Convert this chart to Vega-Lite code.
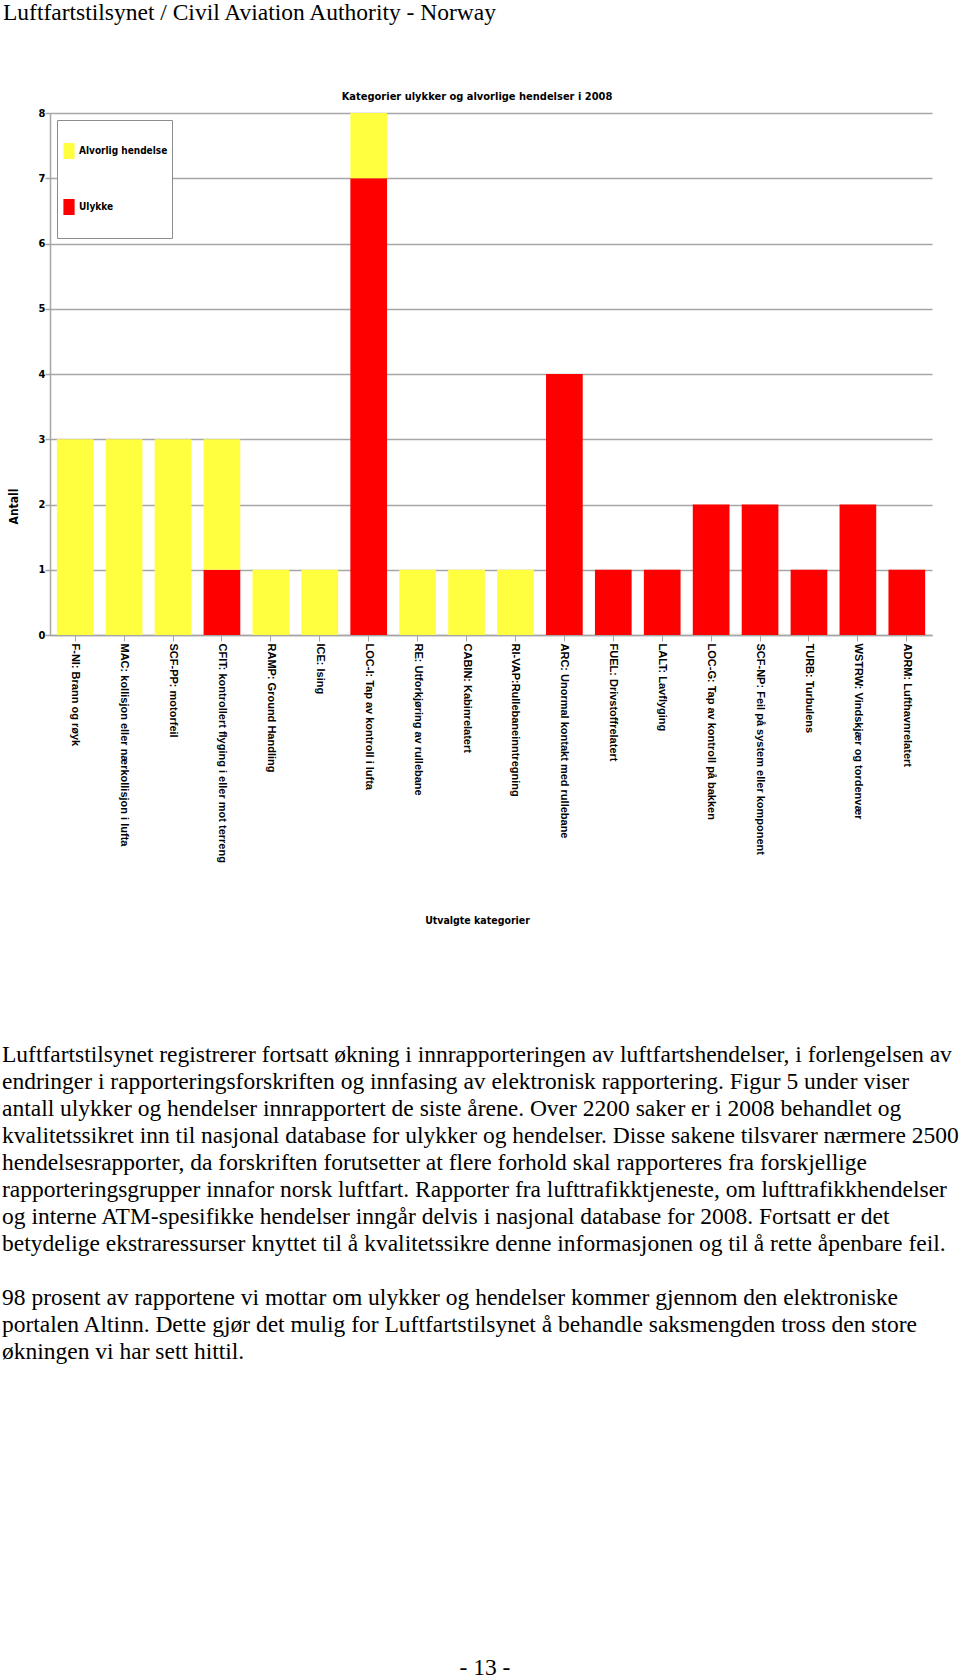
{
  "$schema": "https://vega.github.io/schema/vega-lite/v6.json",
  "background": "white",
  "padding": {"left": 2, "top": 0, "right": 0, "bottom": 0},
  "autosize": {"type": "pad"},
  "bounds": "flush",
  "spacing": 0,
  "config": {"view": {"stroke": null}, "font": "Liberation Sans"},
  "title": {
    "text": "Luftfartstilsynet / Civil Aviation Authority - Norway",
    "anchor": "start", "frame": "group", "font": "Liberation Serif", "fontSize": 23.5,
    "fontWeight": "normal", "color": "#000000", "baseline": "bottom", "offset": 43, "dx": -47
  },
  "vconcat": [
    {
      "width": 882,
      "height": 522,
      "title": {
        "text": "Kategorier ulykker og alvorlige hendelser i 2008",
        "anchor": "middle", "frame": "group",
        "font": "Liberation Sans Narrow, DejaVu Sans Condensed, sans-serif",
        "fontSize": 11, "fontWeight": "bold", "color": "#000000",
        "baseline": "bottom", "offset": -6, "dx": -14
      },
      "data": {"values": [
        {"cat": "F-NI: Brann og røyk", "type": "Alvorlig hendelse", "n": 3},
        {"cat": "MAC: kollisjon eller nærkollisjon i lufta", "type": "Alvorlig hendelse", "n": 3},
        {"cat": "SCF-PP: motorfeil", "type": "Alvorlig hendelse", "n": 3},
        {"cat": "CFIT: kontrollert flyging i eller mot terreng", "type": "Ulykke", "n": 1},
        {"cat": "CFIT: kontrollert flyging i eller mot terreng", "type": "Alvorlig hendelse", "n": 2},
        {"cat": "RAMP: Ground Handling", "type": "Alvorlig hendelse", "n": 1},
        {"cat": "ICE: Ising", "type": "Alvorlig hendelse", "n": 1},
        {"cat": "LOC-I: Tap av kontroll i lufta", "type": "Ulykke", "n": 7},
        {"cat": "LOC-I: Tap av kontroll i lufta", "type": "Alvorlig hendelse", "n": 1},
        {"cat": "RE: Utforkjøring av rullebane", "type": "Alvorlig hendelse", "n": 1},
        {"cat": "CABIN: Kabinrelatert", "type": "Alvorlig hendelse", "n": 1},
        {"cat": "RI-VAP:Rullebaneinntregning", "type": "Alvorlig hendelse", "n": 1},
        {"cat": "ARC: Unormal kontakt med rullebane", "type": "Ulykke", "n": 4},
        {"cat": "FUEL: Drivstoffrelatert", "type": "Ulykke", "n": 1},
        {"cat": "LALT: Lavflyging", "type": "Ulykke", "n": 1},
        {"cat": "LOC-G: Tap av kontroll på bakken", "type": "Ulykke", "n": 2},
        {"cat": "SCF-NP: Feil på system eller komponent", "type": "Ulykke", "n": 2},
        {"cat": "TURB: Turbulens", "type": "Ulykke", "n": 1},
        {"cat": "WSTRW: Vindskjær og tordenvær", "type": "Ulykke", "n": 2},
        {"cat": "ADRM: Lufthavnrelatert", "type": "Ulykke", "n": 1}
      ]},
      "mark": {"type": "bar"},
      "encoding": {
        "x": {
          "field": "cat", "type": "nominal", "sort": null,
          "scale": {"paddingInner": 0.25, "paddingOuter": 0.14},
          "axis": {
            "title": "Utvalgte kategorier",
            "labelAngle": 90, "labelAlign": "left", "labelBaseline": "middle",
            "labelFont": "Liberation Sans", "labelFontWeight": "bold", "labelFontSize": 11,
            "labelColor": "#000000", "labelLimit": 400, "labelPadding": 2, "labelOverlap": false,
            "tickSize": 6, "tickColor": "#a6a6a6", "domainColor": "#a6a6a6", "domainWidth": 1.5,
            "titleFont": "Liberation Sans Narrow, DejaVu Sans Condensed, sans-serif",
            "titleFontSize": 10.5, "titleFontWeight": "bold", "titleColor": "#000000",
            "titleX": 427, "titleY": 285, "titleBaseline": "middle", "grid": false
          }
        },
        "y": {
          "field": "n", "type": "quantitative", "stack": "zero",
          "scale": {"domain": [0, 8], "nice": false},
          "axis": {
            "title": "Antall", "values": [0, 1, 2, 3, 4, 5, 6, 7, 8], "format": "d",
            "grid": true, "gridColor": "#a6a6a6", "gridWidth": 1.5,
            "domainColor": "#a6a6a6", "domainWidth": 1.5,
            "tickColor": "#a6a6a6", "tickSize": 5, "tickWidth": 1.5,
            "labelFont": "Liberation Sans Narrow, DejaVu Sans Condensed, sans-serif",
            "labelFontWeight": "bold", "labelFontSize": 11, "labelColor": "#000000", "labelPadding": 0,
            "titleFont": "Liberation Sans Narrow, DejaVu Sans Condensed, sans-serif",
            "titleFontWeight": "bold", "titleFontSize": 12, "titleColor": "#000000",
            "titleX": -37, "titleY": 393, "titleBaseline": "middle"
          }
        },
        "color": {
          "field": "type", "type": "nominal",
          "scale": {"domain": ["Alvorlig hendelse", "Ulykke"], "range": ["#FFFF40", "#FF0000"]},
          "legend": {
            "title": null, "orient": "top-left", "offset": 7, "padding": 4,
            "fillColor": "white", "strokeColor": "#8c8c8c",
            "symbolType": "M-0.7,-1L0.7,-1L0.7,1L-0.7,1Z", "symbolSize": 256,
            "symbolStrokeWidth": 0, "symbolOpacity": 1,
            "labelFont": "Liberation Sans Narrow, DejaVu Sans Condensed, sans-serif",
            "labelFontSize": 10, "labelFontWeight": "bold", "labelColor": "#000000",
            "labelOffset": 2, "clipHeight": 54, "rowPadding": 2
          }
        },
        "order": {"field": "type", "sort": "descending"}
      }
    },
    {
      "width": 882,
      "height": 400,
      "data": {"values": [{"t": ""}]},
      "mark": {"type": "text"},
      "encoding": {"text": {"field": "t"}},
      "title": {
        "text": [
          "Luftfartstilsynet registrerer fortsatt økning i innrapporteringen av luftfartshendelser, i forlengelsen av",
          "endringer i rapporteringsforskriften og innfasing av elektronisk rapportering. Figur 5 under viser",
          "antall ulykker og hendelser innrapportert de siste årene. Over 2200 saker er i 2008 behandlet og",
          "kvalitetssikret inn til nasjonal database for ulykker og hendelser. Disse sakene tilsvarer nærmere 2500",
          "hendelsesrapporter, da forskriften forutsetter at flere forhold skal rapporteres fra forskjellige",
          "rapporteringsgrupper innafor norsk luftfart. Rapporter fra lufttrafikktjeneste, om lufttrafikkhendelser",
          "og interne ATM-spesifikke hendelser inngår delvis i nasjonal database for 2008. Fortsatt er det",
          "betydelige ekstraressurser knyttet til å kvalitetssikre denne informasjonen og til å rette åpenbare feil."
        ],
        "subtitle": [
          "98 prosent av rapportene vi mottar om ulykker og hendelser kommer gjennom den elektroniske",
          "portalen Altinn. Dette gjør det mulig for Luftfartstilsynet å behandle saksmengden tross den store",
          "økningen vi har sett hittil."
        ],
        "orient": "bottom", "anchor": "start", "frame": "group", "baseline": "top",
        "offset": 8, "dx": -48, "font": "Liberation Serif", "fontSize": 23.5,
        "fontWeight": "normal", "color": "#000000", "lineHeight": 27,
        "subtitleFont": "Liberation Serif", "subtitleFontSize": 23.5, "subtitleFontWeight": "normal",
        "subtitleColor": "#000000", "subtitleLineHeight": 27, "subtitlePadding": 30
      }
    },
    {
      "width": 882,
      "height": 600,
      "data": {"values": [{"t": ""}]},
      "mark": {"type": "text"},
      "encoding": {"text": {"field": "t"}},
      "title": {
        "text": "- 13 -",
        "orient": "bottom", "anchor": "middle", "frame": "group", "baseline": "top",
        "offset": 21, "dx": -6, "font": "Liberation Serif", "fontSize": 23.5,
        "fontWeight": "normal", "color": "#000000"
      }
    }
  ]
}
